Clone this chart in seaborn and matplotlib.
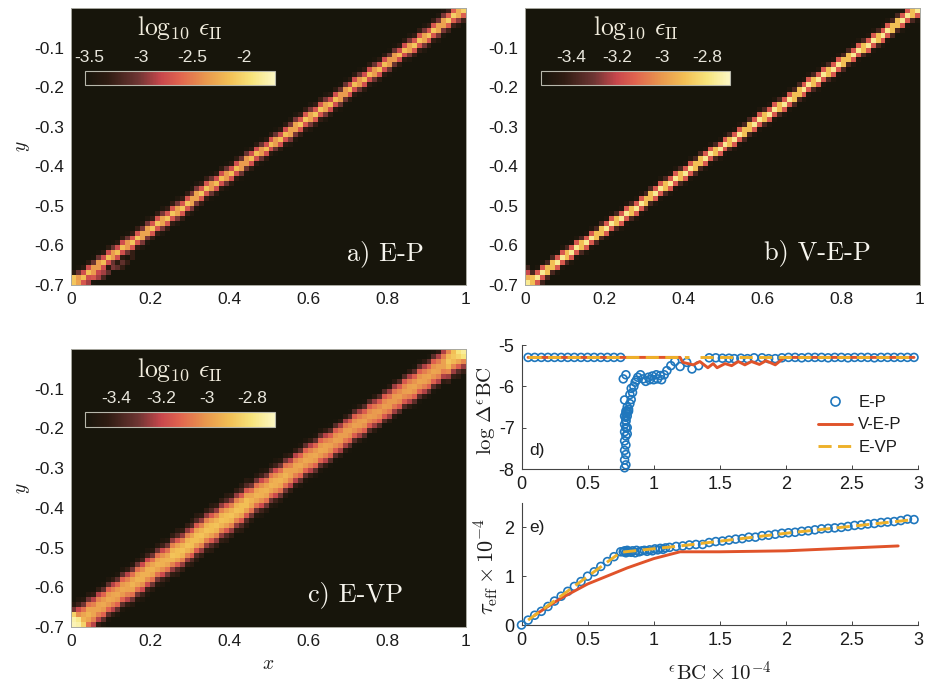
"""Shear band strain-rate maps (a-c) and boundary-strain curves (d, e)."""
import numpy as np
import pandas as pd
import matplotlib
matplotlib.use('Agg')
import matplotlib.pyplot as plt
import seaborn as sns
from matplotlib.colors import LinearSegmentedColormap
from matplotlib.lines import Line2D

# ---- heat maps: log10 strain rate across the band, per half cell from its centre
PROFILE_A = [-2.15, -2.35, -2.75, -3.05, -3.35, -3.50]
PROFILE_B = [-2.77, -2.90, -3.15, -3.38, -3.50]
PROFILE_C = [-2.96, -2.97, -3.00, -3.05, -3.12, -3.22, -3.33, -3.43, -3.50, -3.53]
# change of the band value along x, one entry per 0.1 of x
ALONG_A = [0.0, 0.0, 0.05, 0.05, 0.0, 0.0, 0.05, 0.0, 0.0, 0.05, 0.1]
ALONG_B = [0.0, 0.0, 0.0, 0.0, 0.0, 0.0, 0.0, 0.0, 0.0, 0.0, 0.0]
ALONG_C = [0.03, 0.0, 0.03, 0.07, 0.07, 0.03, 0.0, -0.02, -0.03, -0.01, 0.08]
# single cells that break the band: column, row counted from the bottom, value
SPOTS_A = [(0, 0, -2.1), (0, 1, -2.1), (1, 0, -2.3), (2, 0, -2.7), (3, 0, -2.9), (3, 1, -2.8),
           (4, 1, -2.7), (5, 1, -2.9), (6, 1, -3.2), (5, 2, -2.8), (6, 2, -2.9), (7, 2, -3.1),
           (8, 3, -3.0), (9, 3, -3.1), (10, 3, -3.3), (10, 4, -3.1), (11, 4, -3.3), (12, 5, -3.3)]
SPOTS_B = [(0, 0, -2.85), (1, 0, -2.95), (0, 1, -2.95), (2, 0, -3.2), (0, 2, -3.2), (3, 0, -3.4), (0, 3, -3.4)]
SPOTS_C = [(0, 0, -2.72), (1, 0, -2.74), (0, 1, -2.74), (1, 1, -2.78), (2, 0, -2.85), (0, 2, -2.85),
           (79, 55, -2.76), (78, 55, -2.8), (79, 54, -2.8), (78, 54, -2.85), (77, 55, -2.9)]

RANGE_A = (-3.54, -1.70)
RANGE_BC = (-3.535, -2.70)
CBAR_TICKS_A = [-3.5, -3, -2.5, -2]
CBAR_LABELS_A = ['-3.5', '-3', '-2.5', '-2']
CBAR_TICKS_BC = [-3.4, -3.2, -3, -2.8]
CBAR_LABELS_BC = ['-3.4', '-3.2', '-3', '-2.8']
X_TICKS = [0, 0.2, 0.4, 0.6, 0.8, 1]
X_LABELS = ['0', '0.2', '0.4', '0.6', '0.8', '1']
Y_TICKS = [-0.1, -0.2, -0.3, -0.4, -0.5, -0.6, -0.7]
Y_LABELS = ['-0.1', '-0.2', '-0.3', '-0.4', '-0.5', '-0.6', '-0.7']
NX, NY = 80, 56

# ---- panel d
D_EP_X = [0.05, 0.10, 0.15, 0.20, 0.25, 0.30, 0.35, 0.40, 0.45, 0.50, 0.55, 0.60, 0.65, 0.70, 0.75,
          0.77, 0.79, 0.78, 0.78, 0.79, 0.78, 0.79, 0.78, 0.79, 0.78, 0.79, 0.78, 0.79, 0.78, 0.79,
          0.78, 0.79, 0.80, 0.79, 0.80, 0.79, 0.80, 0.79, 0.80, 0.81, 0.80, 0.82, 0.81, 0.83, 0.82,
          0.84, 0.83, 0.85, 0.86, 0.87, 0.88, 0.90, 0.92, 0.94, 0.96, 0.97, 0.99, 1.00, 1.02, 1.03,
          1.05, 1.06, 1.08, 1.10, 1.13, 1.16, 1.20, 1.25, 1.29, 1.34, 1.42, 1.47, 1.52, 1.57, 1.61,
          1.66, 1.71, 1.76, 1.82, 1.87, 1.92, 1.97, 2.02, 2.07, 2.12, 2.17, 2.22, 2.27, 2.32, 2.37,
          2.42, 2.47, 2.52, 2.57, 2.62, 2.67, 2.72, 2.77, 2.82, 2.87, 2.92, 2.97]
D_EP_Y = [-5.3, -5.3, -5.3, -5.3, -5.3, -5.3, -5.3, -5.3, -5.3, -5.3, -5.3, -5.3, -5.3, -5.3, -5.3,
          -5.82, -5.72, -6.33, -7.97, -7.9, -7.78, -7.65, -7.55, -7.42, -7.32, -7.2, -7.1, -7.0, -6.92, -6.82,
          -6.72, -6.65, -6.72, -6.6, -7.0, -6.85, -7.15, -6.75, -6.62, -6.55, -6.5, -6.42, -6.6, -6.32, -6.2,
          -6.15, -6.05, -6.0, -5.9, -5.85, -5.78, -5.72, -5.82, -5.88, -5.78, -5.84, -5.75, -5.84, -5.72, -5.82,
          -5.74, -5.84, -5.72, -5.62, -5.5, -5.4, -5.52, -5.42, -5.58, -5.5, -5.31, -5.31, -5.32, -5.32, -5.33,
          -5.32, -5.33, -5.31, -5.31, -5.33, -5.33, -5.31, -5.3, -5.3, -5.31, -5.3, -5.3, -5.3, -5.31, -5.3,
          -5.3, -5.31, -5.3, -5.3, -5.3, -5.31, -5.3, -5.3, -5.3, -5.3, -5.3, -5.3]
D_VEP_X = [0.05, 1.20, 1.22, 1.30, 1.35, 1.41, 1.45, 1.48, 1.54, 1.59, 1.64, 1.69, 1.74, 1.80, 1.85, 1.92, 1.99, 2.97]
D_VEP_Y = [-5.3, -5.3, -5.42, -5.48, -5.4, -5.55, -5.45, -5.55, -5.45, -5.5, -5.4, -5.48, -5.4, -5.47, -5.38, -5.48, -5.3, -5.3]
D_EVP_LEFT_X = [0.05, 1.27]
D_EVP_LEFT_Y = [-5.3, -5.3]
D_EVP_RIGHT_X = [1.35, 2.97]
D_EVP_RIGHT_Y = [-5.3, -5.3]

# ---- panel e
E_EP_X = [0.0, 0.05, 0.10, 0.15, 0.20, 0.25, 0.30, 0.35, 0.40, 0.45, 0.50, 0.55, 0.60, 0.65, 0.70,
          0.75, 0.77, 0.78, 0.79, 0.80, 0.81, 0.83, 0.84, 0.86, 0.87, 0.89, 0.91, 0.93, 0.95, 0.97,
          0.99, 1.01, 1.03, 1.05, 1.07, 1.09, 1.12, 1.17, 1.22, 1.27, 1.32, 1.37, 1.42, 1.47, 1.52,
          1.57, 1.62, 1.67, 1.72, 1.77, 1.82, 1.87, 1.92, 1.97, 2.02, 2.07, 2.12, 2.17, 2.22, 2.27,
          2.32, 2.37, 2.42, 2.47, 2.52, 2.57, 2.62, 2.67, 2.72, 2.77, 2.82, 2.87, 2.92, 2.97]
E_EP_Y = [0.0, 0.10, 0.20, 0.28, 0.38, 0.49, 0.59, 0.69, 0.79, 0.89, 1.00, 1.09, 1.20, 1.30, 1.40,
          1.50, 1.50, 1.52, 1.48, 1.53, 1.50, 1.49, 1.52, 1.48, 1.53, 1.50, 1.52, 1.53, 1.51, 1.54,
          1.52, 1.56, 1.54, 1.57, 1.55, 1.58, 1.59, 1.61, 1.62, 1.64, 1.65, 1.65, 1.69, 1.71, 1.72,
          1.74, 1.76, 1.77, 1.80, 1.80, 1.83, 1.84, 1.86, 1.88, 1.89, 1.90, 1.92, 1.93, 1.95, 1.97,
          1.98, 1.99, 2.00, 2.02, 2.04, 2.05, 2.07, 2.08, 2.10, 2.11, 2.12, 2.14, 2.17, 2.16]
E_VEP_X = [0.10, 0.20, 0.30, 0.50, 0.80, 1.00, 1.20, 1.50, 2.00, 2.85]
E_VEP_Y = [0.20, 0.38, 0.55, 0.84, 1.17, 1.36, 1.50, 1.50, 1.52, 1.62]
E_EVP_X = [0.05, 0.75, 1.20, 2.00, 2.97]
E_EVP_Y = [0.10, 1.49, 1.62, 1.88, 2.16]

CURVE_X_TICKS = [0, 0.5, 1, 1.5, 2, 2.5, 3]
CURVE_X_LABELS = ['0', '0.5', '1', '1.5', '2', '2.5', '3']

BLUE = '#1f77bd'
RED = '#e0532a'
GOLD = '#eeb12a'
INK = '#1c1c1c'
W, H = 927, 683

sns.set_theme(style='white')
plt.rcParams['font.family'] = ['Liberation Sans', 'DejaVu Sans']
plt.rcParams['mathtext.fontset'] = 'cm'
plt.rcParams['axes.unicode_minus'] = False

strain_cmap = LinearSegmentedColormap.from_list('strain', [
    (0.00, '#17150b'), (0.12, '#2f1c12'), (0.28, '#6e3533'), (0.40, '#c8474c'),
    (0.50, '#e0644f'), (0.64, '#e9994e'), (0.76, '#f2bf55'), (0.88, '#f7e47c'), (1.00, '#fcf7c4')])


def px_axes(fig, left, top, right, bottom):
    return fig.add_axes([left / W, 1 - bottom / H, (right - left) / W, (bottom - top) / H])


def band_field(profile, along, spots, low):
    grid = np.full((NY, NX), low - 0.1)
    for col in range(NX):
        x = (col + 0.5) / NX
        centre = NY * (1 - x) - 0.5
        shift = along[int(x * 10 + 0.5)]
        for row in range(NY):
            step = int(round(abs(row - centre) * 2))
            if step < len(profile):
                grid[row, col] = profile[step] + shift
    for col, row, value in spots:
        grid[NY - 1 - row, col] = max(value, grid[NY - 1 - row, col])
    return grid


def draw_map(fig, box, bar_box, title_y, profile, along, spots, limits, ticks, tick_labels, tag, tag_xy,
             xlabel=False, ylabel=True):
    ax = px_axes(fig, *box)
    cax = px_axes(fig, *bar_box)
    sns.heatmap(band_field(profile, along, spots, limits[0]), ax=ax, cmap=strain_cmap,
                vmin=limits[0], vmax=limits[1], cbar_ax=cax, square=False,
                xticklabels=False, yticklabels=False,
                cbar_kws={'orientation': 'horizontal', 'ticks': ticks})
    ax.set_xticks([t * NX for t in X_TICKS])
    ax.set_xticklabels(X_LABELS, rotation=0, fontsize=12.5, color=INK)
    ax.set_yticks([-t / 0.7 * NY for t in Y_TICKS])
    ax.set_yticklabels(Y_LABELS, rotation=0, fontsize=12.5, color=INK)
    ax.tick_params(length=0, pad=5)
    for spine in ax.spines.values():
        spine.set_visible(True)
        spine.set_color('#a8a8a0')
        spine.set_linewidth(0.7)
    if ylabel:
        ax.set_ylabel('$y$', fontsize=14, color=INK)
        ax.yaxis.set_label_coords(-0.1, 0.5)
    if xlabel:
        ax.set_xlabel('$x$', fontsize=14, color=INK)
        ax.xaxis.set_label_coords(0.5, -0.105)
    ax.text(tag_xy[0], tag_xy[1], tag, transform=ax.transAxes, color='#f7f5ee', fontsize=19,
            family='cmr10', ha='left', va='center')

    cax.xaxis.set_ticks_position('top')
    cax.set_xticks(ticks)
    cax.set_xticklabels(tick_labels, color='#e8e6dc', fontsize=12.5)
    cax.tick_params(axis='x', direction='in', length=1.5, width=0.6, color='#cfcfc4', pad=4)
    cbar = ax.collections[0].colorbar
    cbar.outline.set_edgecolor('#b8b8ac')
    cbar.outline.set_linewidth(0.8)
    fig.text((bar_box[0] + 95) / W, 1 - title_y / H, r'$\log_{10}\,\epsilon_{\mathrm{II}}$',
             color='#f0ebdc', fontsize=18.5, ha='center', va='center')


def style_curves(ax, y_ticks, y_labels):
    ax.set_xlim(0, 3)
    ax.set_xticks(CURVE_X_TICKS)
    ax.set_xticklabels(CURVE_X_LABELS, fontsize=13, color=INK)
    ax.set_yticks(y_ticks)
    ax.set_yticklabels(y_labels, fontsize=13, color=INK)
    ax.tick_params(direction='in', length=3, width=0.7, color='#444444', pad=5, bottom=True, left=True)
    sns.despine(ax=ax)
    for side in ['left', 'bottom']:
        ax.spines[side].set_color('#444444')
        ax.spines[side].set_linewidth(0.8)


def draw_curves(ax, ep_x, ep_y, vep_x, vep_y, evp_parts):
    sns.scatterplot(data=pd.DataFrame({'x': ep_x, 'y': ep_y}), x='x', y='y', ax=ax, s=32,
                    marker='o', facecolor='none', edgecolor=BLUE, linewidth=1.2, clip_on=False, zorder=3)
    sns.lineplot(x=vep_x, y=vep_y, ax=ax, color=RED, linewidth=2.1, sort=False, estimator=None, zorder=4)
    for part_x, part_y in evp_parts:
        sns.lineplot(x=part_x, y=part_y, ax=ax, color=GOLD, linewidth=2.1, sort=False, estimator=None,
                     linestyle=(0, (4.5, 2.2)), zorder=5)
    ax.set_xlabel('')
    ax.set_ylabel('')


fig = plt.figure(figsize=(W / 100, H / 100), dpi=100, facecolor='white')

draw_map(fig, (71, 8, 466, 285), (85, 71, 275, 85), 28, PROFILE_A, ALONG_A, SPOTS_A, RANGE_A,
         CBAR_TICKS_A, CBAR_LABELS_A, 'a) E-P', (0.70, 0.115))
draw_map(fig, (525, 8, 920, 285), (541, 71, 730, 85), 28, PROFILE_B, ALONG_B, SPOTS_B, RANGE_BC,
         CBAR_TICKS_BC, CBAR_LABELS_BC, 'b) V-E-P', (0.605, 0.118), ylabel=False)
draw_map(fig, (71, 349, 466, 627), (85, 412, 275, 427), 370, PROFILE_C, ALONG_C, SPOTS_C, RANGE_BC,
         CBAR_TICKS_BC, CBAR_LABELS_BC, 'c) E-VP', (0.60, 0.115), xlabel=True)

# d) convergence
ax_d = px_axes(fig, 521.5, 345, 918, 469)
draw_curves(ax_d, D_EP_X, D_EP_Y, D_VEP_X, D_VEP_Y,
            [(D_EVP_LEFT_X, D_EVP_LEFT_Y), (D_EVP_RIGHT_X, D_EVP_RIGHT_Y)])
ax_d.set_ylim(-8, -5)
style_curves(ax_d, [-8, -7, -6, -5], ['-8', '-7', '-6', '-5'])
ax_d.set_ylabel(r'$\log\,\Delta^{\epsilon}\mathrm{BC}$', fontsize=15, color=INK)
ax_d.yaxis.set_label_coords(-0.06, 0.47)
ax_d.text(0.06, -7.55, 'd)', fontsize=12.5, color=INK, va='center')
handles = [Line2D([], [], marker='o', linestyle='none', markerfacecolor='none', markeredgecolor=BLUE,
                  markersize=6.5, markeredgewidth=1.2),
           Line2D([], [], color=RED, linewidth=2.1),
           Line2D([], [], color=GOLD, linewidth=2.1, linestyle=(0, (4.5, 2.2)))]
ax_d.legend(handles, ['E-P', 'V-E-P', 'E-VP'], loc='center left', bbox_to_anchor=(0.748, 0.355), frameon=False,
            fontsize=12, handlelength=2.05, handletextpad=0.36, labelspacing=0.45, labelcolor=INK,
            borderpad=0, borderaxespad=0)

# e) effective stress
ax_e = px_axes(fig, 521.5, 503, 918, 625)
draw_curves(ax_e, E_EP_X, E_EP_Y, E_VEP_X, E_VEP_Y, [(E_EVP_X, E_EVP_Y)])
ax_e.set_ylim(0, 2.5)
style_curves(ax_e, [0, 1, 2], ['0', '1', '2'])
ax_e.set_ylabel(r'$\tau_{\mathrm{eff}}\times 10^{-4}$', fontsize=16, color=INK)
ax_e.yaxis.set_label_coords(-0.054, 0.48)
ax_e.set_xlabel(r'${}^{\epsilon}\mathrm{BC}\times 10^{-4}$', fontsize=15, color=INK)
ax_e.xaxis.set_label_coords(0.5, -0.29)
ax_e.text(0.06, 2.0, 'e)', fontsize=12.5, color=INK, va='center')

fig.savefig('out.png', dpi=100)
